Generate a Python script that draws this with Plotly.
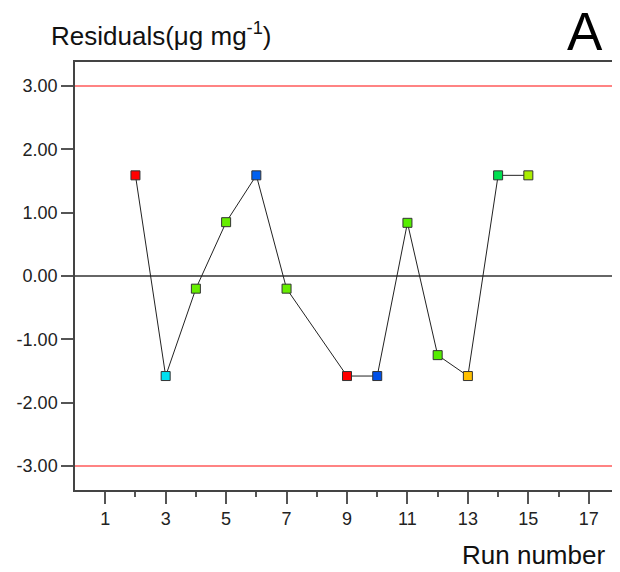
import plotly.graph_objects as go

run_number = [2, 3, 4, 5, 6, 7, 9, 10, 11, 12, 13, 14, 15]
residuals = [1.59, -1.58, -0.20, 0.85, 1.59, -0.20, -1.58, -1.58, 0.84, -1.25, -1.58, 1.59, 1.59]
point_colors = ["#ff0000", "#00e0f0", "#66ee00", "#66ee00", "#0060f0", "#66ee00",
                "#ff0000", "#0050e8", "#55ee00", "#55ee00", "#ffc000", "#00e050", "#aaee00"]
limits = [3.0, -3.0]
x_ticks = [1, 3, 5, 7, 9, 11, 13, 15, 17]
x_minor_ticks = [2, 4, 6, 8, 10, 12, 14, 16]
y_ticks = [3, 2, 1, 0, -1, -2, -3]
y_ticktext = [f"{v:.2f}" for v in y_ticks]

FONT = "Arial, Liberation Sans, sans-serif"

fig = go.Figure()
fig.add_trace(go.Scatter(
    x=run_number, y=residuals, mode="lines+markers",
    line=dict(color="#222222", width=1),
    marker=dict(symbol="square", size=9, color=point_colors,
                line=dict(color="#333333", width=1)),
    showlegend=False, hoverinfo="x+y"))

for v in limits:
    fig.add_shape(type="line", xref="paper", x0=0, x1=1, yref="y", y0=v, y1=v,
                  line=dict(color="#ff5a5a", width=1.5), layer="below")

# page body has an 8px margin, so the figure is 8px smaller and margins shifted
fig.update_layout(
    width=612, height=564,
    margin=dict(l=67, r=1, t=54, b=82, autoexpand=False),
    paper_bgcolor="white", plot_bgcolor="white",
    font=dict(family=FONT, color="#222222"),
    xaxis=dict(range=[0, 18], tickvals=x_ticks, ticks="outside", ticklen=12,
               tickwidth=1.5, tickcolor="#555555", showline=True, linecolor="#444444",
               linewidth=1.5, mirror=True, showgrid=False, zeroline=False,
               tickfont=dict(size=18, family=FONT, color="#222222"),
               minor=dict(tickvals=x_minor_ticks, ticks="outside", ticklen=5,
                          tickwidth=1.5, tickcolor="#555555", showgrid=False)),
    yaxis=dict(range=[-3.38, 3.38], tickvals=y_ticks, ticktext=y_ticktext,
               ticks="outside", ticklen=12, tickwidth=1.5, tickcolor="#555555",
               showline=True, linecolor="#444444", linewidth=1.5, mirror=True,
               showgrid=False, zeroline=True, zerolinecolor="#666666", zerolinewidth=1.5,
               tickfont=dict(size=18, family=FONT, color="#222222")),
)

fig.add_annotation(text="Residuals(μg mg<sup>-1</sup>)", xref="paper", yref="paper",
                   x=-0.048, y=1.0654, xanchor="left", yanchor="middle",
                   showarrow=False, font=dict(size=26, family=FONT, color="#111111"))
fig.add_annotation(text="A", xref="paper", yref="paper",
                   x=0.9384, y=1.144, xanchor="center", yanchor="top",
                   showarrow=False, font=dict(size=53, family=FONT, color="#000000"))
fig.add_annotation(text="Run number", xref="paper", yref="paper",
                   x=0.978, y=-0.153, xanchor="right", yanchor="middle",
                   showarrow=False, font=dict(size=26, family=FONT, color="#111111"))

fig.write_html("out.html")
